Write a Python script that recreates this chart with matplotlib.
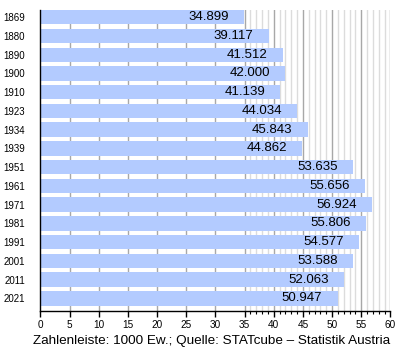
import matplotlib
matplotlib.use("Agg")
import matplotlib.pyplot as plt
from matplotlib.ticker import MultipleLocator, FixedLocator

years = ["1869", "1880", "1890", "1900", "1910", "1923", "1934", "1939",
         "1951", "1961", "1971", "1981", "1991", "2001", "2011", "2021"]
population = [34.899, 39.117, 41.512, 42.000, 41.139, 44.034, 45.843, 44.862,
              53.635, 55.656, 56.924, 55.806, 54.577, 53.588, 52.063, 50.947]
value_labels = ["34.899", "39.117", "41.512", "42.000", "41.139", "44.034",
                "45.843", "44.862", "53.635", "55.656", "56.924", "55.806",
                "54.577", "53.588", "52.063", "50.947"]

plt.rcParams["font.family"] = ["Liberation Sans", "DejaVu Sans"]

fig = plt.figure(figsize=(4, 3.5), dpi=100)
ax = fig.add_axes([0.101, 0.1114, 0.875, 0.86])

pos = list(range(len(years)))
ax.barh(pos, population, height=0.77, color="#b3cbff", zorder=2)

ax.set_xlim(0, 60)
ax.set_ylim(15.67, -0.385)

# grid: major lines every 5, fine lines every 1 from 35 upwards
for x in range(5, 61, 5):
    ax.axvline(x, color="#a8a8a8", lw=1.0, zorder=1)
for x in range(36, 60):
    if x % 5:
        ax.axvline(x, color="#dcdcdc", lw=1.0, zorder=1)

ax.xaxis.set_major_locator(MultipleLocator(5))
ax.xaxis.set_minor_locator(FixedLocator([x for x in range(36, 60) if x % 5]))
ax.tick_params(axis="x", which="major", length=4, width=1, direction="out",
               labelsize=7.2, pad=2.5, color="black")
ax.tick_params(axis="x", which="minor", length=2, width=0.8, direction="out",
               color="black")
ax.set_yticks(pos)
ax.set_yticklabels(years)
ax.tick_params(axis="y", length=0, labelsize=7, pad=11)

for s in ("top", "right"):
    ax.spines[s].set_visible(False)
ax.spines["left"].set_linewidth(1.0)
ax.spines["bottom"].set_linewidth(1.0)

for p, v, lab in zip(pos, population, value_labels):
    ax.annotate(lab, (v, p), xytext=(-11, 0), textcoords="offset points",
                ha="right", va="center", fontsize=9.5, color="black", zorder=3)

fig.text(0.529, 0.026, "Zahlenleiste: 1000 Ew.; Quelle: STATcube – Statistik Austria",
         ha="center", va="center", fontsize=9.7)

fig.savefig("out.png", dpi=100)
